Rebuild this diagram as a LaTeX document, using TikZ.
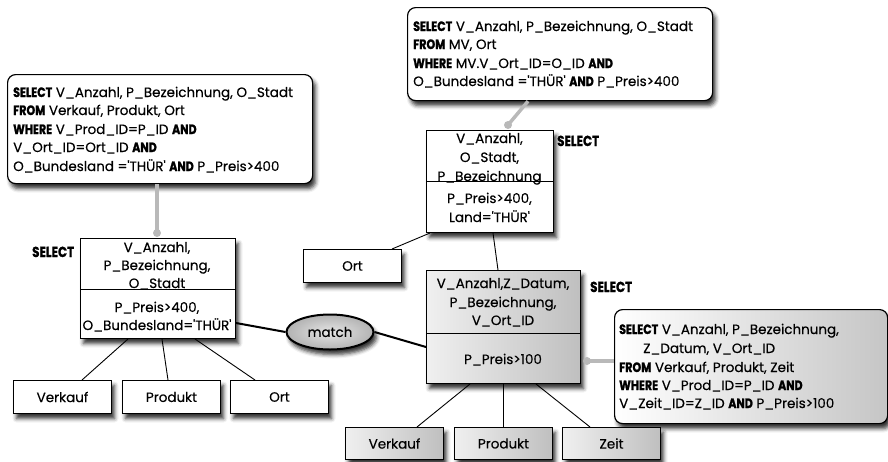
\documentclass[tikz,border=0pt]{standalone}
\usepackage{fontspec}
\setmainfont{Poppins}[FakeBold=0.35]
\newfontfamily\kwfont{Poppins}[FakeStretch=0.82, BoldFeatures={FakeBold=1.3}]
\usetikzlibrary{shapes.geometric,shadows.blur,calc}

\newcommand\kw[1]{{\kwfont\bfseries #1}}
\newcommand\sq{\textquotesingle}

\tikzset{
  softshadow/.style={blur shadow={shadow xshift=3pt, shadow yshift=-5pt,
      shadow blur radius=4pt, shadow opacity=80}},
  sqlbox/.style={draw=black, line width=1.2pt, rounded corners=8pt, fill=white,
      softshadow, inner sep=0pt, anchor=north west},
  relbox/.style={draw=black, line width=1pt, fill=white, softshadow,
      inner sep=0pt, anchor=north west},
  graybox/.style={relbox, left color=gray!12, right color=gray!50},
  leafbox/.style={relbox, minimum width=98pt, minimum height=33pt},
  grayleaf/.style={graybox, minimum width=98pt, minimum height=32pt},
  line/.style={inner sep=0pt, anchor=base west},
  cline/.style={inner sep=0pt, anchor=base},
  wire/.style={line width=0.9pt},
  link/.style={line width=2pt},
  pin/.style={draw=gray!55, line width=3.5pt},
  pindot/.style={fill=gray!55},
  sellabel/.style={inner sep=0pt, anchor=base west, font=\fontsize{14.5}{18}\kwfont\bfseries},
}

\begin{document}
\begin{tikzpicture}[x=1pt, y=-1pt, font=\fontsize{13.5}{18}\selectfont]
\useasboundingbox (0,0) rectangle (888,461);

% ---------- query text boxes ----------
\node[sqlbox, minimum width=305pt, minimum height=109pt] (qa) at (7,74) {};
\node[line] (qa1) at (13,97)  {\kw{SELECT} V\_Anzahl, P\_Bezeichnung, O\_Stadt};
\node[line] (qa2) at (13,115) {\kw{FROM} Verkauf, Produkt, Ort};
\node[line] (qa3) at (13,134) {\kw{WHERE} V\_Prod\_ID=P\_ID \kw{AND}};
\node[line] (qa4) at (13,152) {V\_Ort\_ID=Ort\_ID \kw{AND}};
\node[line] (qa5) at (13,171) {O\_Bundesland =\sq THÜR\sq{} \kw{AND} P\_Preis>400};

\node[sqlbox, minimum width=305pt, minimum height=93pt] (qe) at (407,7) {};
\node[line] (qe1) at (413,31) {\kw{SELECT} V\_Anzahl, P\_Bezeichnung, O\_Stadt};
\node[line] (qe2) at (413,49) {\kw{FROM} MV, Ort};
\node[line] (qe3) at (413,68) {\kw{WHERE} MV.V\_Ort\_ID=O\_ID \kw{AND}};
\node[line] (qe4) at (413,86) {O\_Bundesland =\sq THÜR\sq{} \kw{AND} P\_Preis>400};

\node[sqlbox, left color=white, right color=gray!45, minimum width=273pt, minimum height=114pt] (qf) at (614,309) {};
\node[line] (qf1) at (619,334) {\kw{SELECT} V\_Anzahl, P\_Bezeichnung,};
\node[line] (qf2) at (643,353) {Z\_Datum, V\_Ort\_ID};
\node[line] (qf3) at (619,372) {\kw{FROM} Verkauf, Produkt, Zeit};
\node[line] (qf4) at (619,390) {\kw{WHERE} V\_Prod\_ID=P\_ID \kw{AND}};
\node[line] (qf5) at (619,408) {V\_Zeit\_ID=Z\_ID \kw{AND} P\_Preis>100};

% ---------- left plan ----------
\node[relbox, minimum width=155pt, minimum height=100pt] (rb) at (80,238) {};
\draw[line width=1pt] ($(rb.north west)+(0,51)$) coordinate (rbl) -- (rbl -| rb.east);
\node[cline] (rb1) at (157,252) {V\_Anzahl,};
\node[cline] (rb2) at (157,270) {P\_Bezeichnung,};
\node[cline] (rb3) at (157,288) {O\_Stadt};
\node[cline] (rb4) at (157,312) {P\_Preis>400,};
\node[cline] (rb5) at (157,330) {O\_Bundesland=\sq THÜR\sq};
\node[sellabel] (sb) at (32,257) {SELECT};

\node[leafbox] (l1) at (13,380)  {}; \node at (l1.center) {Verkauf};
\node[leafbox] (l2) at (122,380) {}; \node at (l2.center) {Produkt};
\node[leafbox] (l3) at (230,380) {}; \node at (l3.center) {Ort};

\draw[wire] ($(rb.south west)+(48,0)$) -- ($(l1.north west)+(69,0)$);
\draw[wire] ($(rb.south west)+(82,0)$) -- ($(l2.north west)+(46,0)$);
\draw[wire] ($(rb.south west)+(115,0)$) -- ($(l3.north west)+(25,0)$);

% ---------- right plan ----------
\node[relbox, minimum width=127pt, minimum height=102pt] (rc) at (426,130) {};
\node[cline] (rc1) at (489.5,143) {V\_Anzahl,};
\node[cline] (rc2) at (489.5,162) {O\_Stadt,};
\node[cline] (rc3) at (489.5,181) {P\_Bezeichnung};
\draw[line width=1pt] ($(rc.north west)+(0,51)$) coordinate (rcl) -- (rcl -| rc.east);
\node[cline] (rc4) at (489.5,203) {P\_Preis>400,};
\node[cline] (rc5) at (489.5,222) {Land=\sq THÜR\sq};
\node[sellabel] (sc) at (557,146) {SELECT};

\node[leafbox] (o2) at (303,249) {}; \node at (o2.center) {Ort};

\node[graybox, minimum width=154pt, minimum height=113pt] (rd) at (426,270) {};
\draw[line width=1pt] ($(rd.north west)+(0,63)$) coordinate (rdl) -- (rdl -| rd.east);
\node[cline] (rd1) at (503,288) {V\_Anzahl,Z\_Datum,};
\node[cline] (rd2) at (503,307) {P\_Bezeichnung,};
\node[cline] (rd3) at (503,325) {V\_Ort\_ID};
\node[cline] (rd4) at (503,364) {P\_Preis>100};
\node[sellabel] (sd) at (590,292) {SELECT};

\node[grayleaf] (g1) at (345,427) {}; \node at (g1.center) {Verkauf};
\node[grayleaf] (g2) at (454,427) {}; \node at (g2.center) {Produkt};
\node[grayleaf] (g3) at (562,427) {}; \node at (g3.center) {Zeit};

\draw[wire] ($(rc.south west)+(4,0)$) -- ($(o2.north west)+(89,0)$);
\draw[wire] ($(rc.south west)+(67,0)$) -- ($(rd.north west)+(72,0)$);
\draw[wire] ($(rd.south west)+(44,0)$) -- ($(g1.north west)+(72,0)$);
\draw[wire] ($(rd.south west)+(77,0)$) -- ($(g2.north west)+(49,0)$);
\draw[wire] ($(rd.south west)+(110,0)$) -- ($(g3.north west)+(28,0)$);

% ---------- match ----------
\node[ellipse, draw=black, line width=2pt, inner color=gray!20, outer color=gray!60,
      minimum width=87pt, minimum height=35pt, inner sep=0pt, softshadow] (m) at (330,332) {match};
\draw[link] ($(rb.south east)+(0,-16)$) -- (m.west);
\draw[link] (m.east) -- ($(rd.north west)+(0,77)$);

% ---------- annotation pins ----------
\coordinate (pa) at (157,233);
\draw[pin] (qa.south -| pa) -- (pa);
\fill[pindot] (pa) circle (4pt);

\coordinate (pe) at (508,125);
\draw[pin] ($(qe.south west)+(121,0)$) -- (pe);
\fill[pindot] (pe) circle (4pt);

\coordinate (pf) at (587,361);
\draw[pin] (qf.west |- pf) -- (pf);
\fill[pindot] (pf) circle (4pt);
\end{tikzpicture}
\end{document}
